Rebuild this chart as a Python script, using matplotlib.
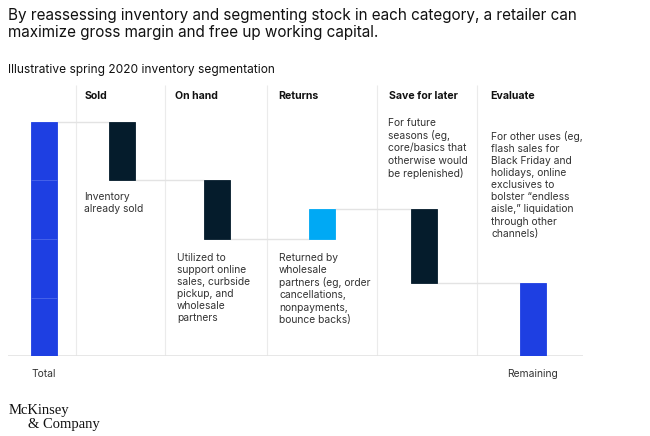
import matplotlib.pyplot as plt

# waterfall data (illustrative units, total = 100)
steps = ["Total", "Sold", "On hand", "Returns", "Save for later", "Remaining"]
changes = [100, -25, -25, 13, -32, 31]
headers = ["Sold", "On hand", "Returns", "Save for later", "Evaluate"]
notes = [
    "Inventory\nalready sold",
    "Utilized to\nsupport online\nsales, curbside\npickup, and\nwholesale\npartners",
    "Returned by\nwholesale\npartners (eg, order\ncancellations,\nnonpayments,\nbounce backs)",
    "For future\nseasons (eg,\ncore/basics that\notherwise would\nbe replenished)",
    "For other uses (eg,\nflash sales for\nBlack Friday and\nholidays, online\nexclusives to\nbolster \u201cendless\naisle,\u201d liquidation\nthrough other\nchannels)",
]

# layout (pixel-like units across the figure)
W, H = 650, 436
bar_x = [44, 122, 217, 322, 424, 533]
col_edges = [76, 165, 267, 377, 477]
header_x = [85, 175, 278, 389, 490]
note_pos = [(84, 192), (177, 253), (279, 253), (388, 118), (491, 131)]
bar_w = 26

BLUE = "#1E3FE2"
NAVY = "#051C2C"
CYAN = "#00A9F4"
GRID = "#E3E3E3"
TXT = "#333333"

fig = plt.figure(figsize=(W / 100, H / 100), dpi=100)
base_px, top_px = 356, 85
ax = fig.add_axes([8 / W, (H - base_px) / H, (583 - 8) / W, (base_px - top_px) / H])
scale = (356 - 122) / 100
ax.set_xlim(8, 583)
ax.set_ylim(0, (base_px - top_px) / scale)
ax.axis("off")

# waterfall bars
level = 0
levels = []
for i, (name, c) in enumerate(zip(steps, changes)):
    if i == 0 or i == len(steps) - 1:
        bottom, height, color = 0, c, BLUE
        level = c if i == 0 else level
    else:
        bottom = level + min(c, 0)
        height = abs(c)
        color = CYAN if c > 0 else NAVY
        level += c
    levels.append(level)
    ax.bar(bar_x[i], height, bottom=bottom, width=bar_w, color=color,
           edgecolor=color, linewidth=0.6, zorder=3)

# faint segment lines inside total bar
for v in [25, 50, 75]:
    ax.hlines(v, bar_x[0] - bar_w / 2, bar_x[0] + bar_w / 2, color="#4662EA",
              linewidth=0.7, zorder=4)

# connectors
for i in range(len(steps) - 1):
    ax.hlines(levels[i], bar_x[i] + bar_w / 2, bar_x[i + 1] - bar_w / 2,
              color=GRID, linewidth=1, zorder=2)

# column separators and baseline
for x in col_edges:
    ax.vlines(x, 0, ax.get_ylim()[1], color="#EBEBEB", linewidth=0.8, zorder=1)
ax.hlines(0, 8, 583, color=GRID, linewidth=1.2, zorder=2)


def ftext(x, y, s, **kw):
    fig.text(x / W, 1 - y / H, s, **kw)


ftext(8, 8, "By reassessing inventory and segmenting stock in each category, a retailer can\n"
      "maximize gross margin and free up working capital.",
      fontsize=11.0, color="#111111", va="top", linespacing=1.2, family="Inter")
ftext(8, 70, "Illustrative spring 2020 inventory segmentation", fontsize=8.6,
      color="#111111", va="center", family="Inter")

for x, h in zip(header_x, headers):
    ftext(x, 96, h, fontsize=7.6, fontweight="bold", color="#111111", va="center", family="Inter")

for (x, y), n in zip(note_pos, notes):
    ftext(x, y, n, fontsize=7.4, color=TXT, va="top", linespacing=1.26, family="Inter")

ftext(44, 374, "Total", fontsize=7.4, color=TXT, ha="center", va="center", family="Inter")
ftext(533, 374, "Remaining", fontsize=7.4, color=TXT, ha="center", va="center", family="Inter")

ftext(9, 410, "McKinsey", fontsize=10.5, color="#111111", va="center", family="Liberation Serif")
ftext(28, 424, "& Company", fontsize=10.5, color="#111111", va="center", family="Liberation Serif")

fig.savefig("out.png", dpi=100)
